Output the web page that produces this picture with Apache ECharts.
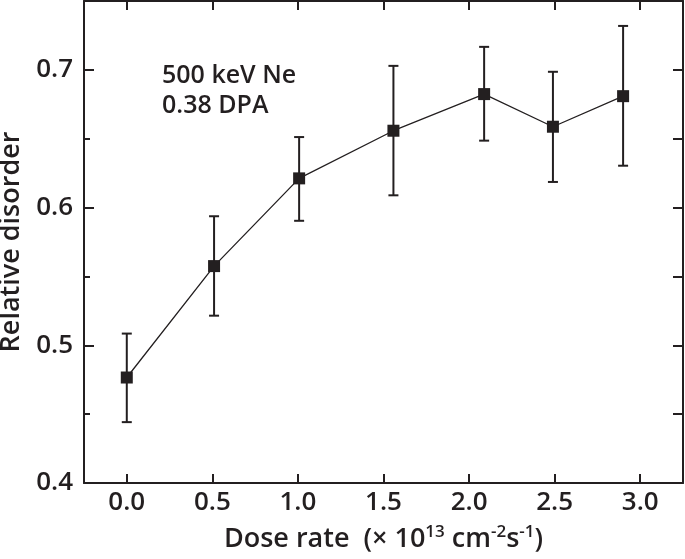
<!DOCTYPE html>
<html><head><meta charset="utf-8">
<script src="https://cdn.jsdelivr.net/npm/echarts@6/dist/echarts.min.js"></script>
<style>html,body{margin:0;padding:0;background:#fff}#c{width:685px;height:559px}</style>
</head><body><div id="c"></div>
<script>
var doseRate = [0.0, 0.51, 1.007, 1.558, 2.088, 2.49, 2.90];
var disorder = [0.4766, 0.5575, 0.6212, 0.6558, 0.6824, 0.6587, 0.6809];
var errLow  = [0.4442, 0.5215, 0.5904, 0.6089, 0.6486, 0.6186, 0.6304];
var errHigh = [0.5085, 0.5937, 0.6512, 0.7029, 0.7167, 0.6986, 0.7319];
var xTicks = [0, 0.5, 1.0, 1.5, 2.0, 2.5, 3.0];
var yTicks = [0.4, 0.5, 0.6, 0.7];
var yMinorTicks = [0.45, 0.55, 0.65];
var yRightTicks = [0.45, 0.5, 0.55, 0.6, 0.65, 0.7];

var FONT = 'Open Sans';
var FW = 600;
var chart = echarts.init(document.getElementById('c'));
var lineData = doseRate.map(function (x, i) { return [x, disorder[i]]; });
var errData = doseRate.map(function (x, i) { return [x, errLow[i], errHigh[i]]; });
var axisLine = { show: true, onZero: false, lineStyle: { color: '#231f20', width: 2 } };

chart.setOption({
  animation: false,
  grid: { left: 84, right: 2, top: 1, bottom: 76, containLabel: false, outerBoundsMode: 'none' },
  xAxis: [{
    type: 'value', position: 'bottom', min: -0.25, max: 3.25,
    axisLine: axisLine,
    axisTick: { show: true, inside: true, length: 9, customValues: xTicks, lineStyle: { color: '#231f20', width: 2 } },
    axisLabel: { customValues: xTicks, formatter: function (v) { return v.toFixed(1); }, fontFamily: FONT, fontWeight: FW, fontSize: 26, color: '#231f20', margin: 7 },
    splitLine: { show: false },
    name: 'Dose rate  (\u00d7 10{sup|13} cm{sup|-2}s{sup|-1})',
    nameLocation: 'middle', nameGap: 41,
    nameTextStyle: {
      fontFamily: FONT, fontWeight: FW, fontSize: 27, color: '#231f20', verticalAlign: 'top',
      rich: { sup: { fontFamily: FONT, fontWeight: FW, fontSize: 17, color: '#231f20', verticalAlign: 'bottom', padding: [0, 0, 14, 0] } }
    }
  }, {
    type: 'value', position: 'top', min: -0.25, max: 3.25,
    axisLine: axisLine,
    axisTick: { show: true, inside: true, length: 9, customValues: xTicks, lineStyle: { color: '#231f20', width: 2 } },
    axisLabel: { show: false }, splitLine: { show: false }
  }],
  yAxis: [{
    type: 'value', position: 'left', min: 0.4, max: 0.75,
    axisLine: axisLine,
    axisTick: { show: true, inside: true, length: 10, customValues: yTicks, lineStyle: { color: '#231f20', width: 2 } },
    axisLabel: { customValues: yTicks, formatter: function (v) { return v.toFixed(1); }, fontFamily: FONT, fontWeight: FW, fontSize: 26, color: '#231f20', margin: 11 },
    splitLine: { show: false },
    name: 'Relative disorder', nameLocation: 'middle', nameGap: 59, nameRotate: 90,
    nameTextStyle: { fontFamily: FONT, fontWeight: FW, fontSize: 27, color: '#231f20' }
  }, {
    type: 'value', position: 'left', min: 0.4, max: 0.75,
    axisLine: { show: false, onZero: false },
    axisTick: { show: true, inside: true, length: 6, customValues: yMinorTicks, lineStyle: { color: '#231f20', width: 2 } },
    axisLabel: { show: false }, splitLine: { show: false }
  }, {
    type: 'value', position: 'right', min: 0.4, max: 0.75,
    axisLine: axisLine,
    axisTick: { show: true, inside: true, length: 10, customValues: yRightTicks, lineStyle: { color: '#231f20', width: 2 } },
    axisLabel: { show: false }, splitLine: { show: false }
  }],
  graphic: [{
    type: 'text', left: 162, top: 61,
    style: { text: '500 keV Ne\n0.38 DPA', fontFamily: FONT, fontWeight: FW, fontSize: 25, lineHeight: 30, fill: '#231f20' }
  }],
  series: [{
    type: 'custom', xAxisIndex: 0, yAxisIndex: 0, data: errData, z: 2,
    renderItem: function (params, api) {
      var lo = api.coord([api.value(0), api.value(1)]);
      var hi = api.coord([api.value(0), api.value(2)]);
      var w = 5;
      var st = { stroke: '#231f20', lineWidth: 2 };
      return { type: 'group', children: [
        { type: 'line', shape: { x1: lo[0], y1: lo[1], x2: hi[0], y2: hi[1] }, style: st },
        { type: 'line', shape: { x1: lo[0] - w, y1: lo[1], x2: lo[0] + w, y2: lo[1] }, style: st },
        { type: 'line', shape: { x1: hi[0] - w, y1: hi[1], x2: hi[0] + w, y2: hi[1] }, style: st }
      ] };
    }
  }, {
    type: 'line', xAxisIndex: 0, yAxisIndex: 0, data: lineData, z: 3,
    symbol: 'rect', symbolSize: 12,
    lineStyle: { color: '#231f20', width: 1.3 },
    itemStyle: { color: '#231f20' }
  }]
});
</script></body></html>
